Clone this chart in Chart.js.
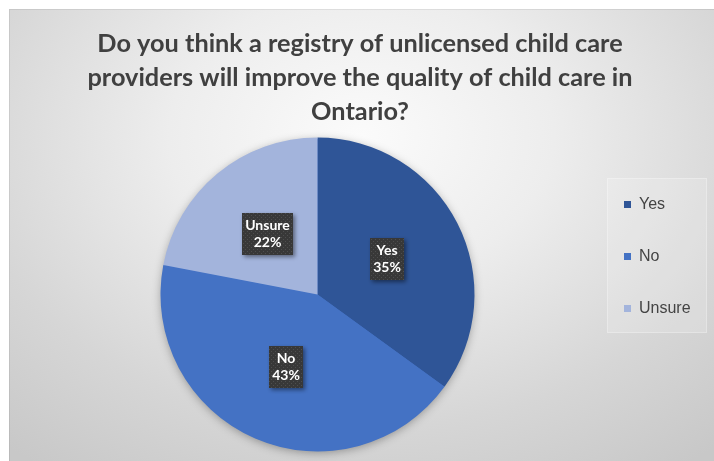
<!DOCTYPE html>
<html>
<head>
<meta charset="utf-8">
<script src="https://cdn.jsdelivr.net/npm/chart.js@4.4.1/dist/chart.umd.min.js"></script>
<style>
  html, body { margin: 0; padding: 0; background: #ffffff; }
  #panel {
    position: absolute; left: 9px; top: 9px; width: 705px; height: 452px;
    background: radial-gradient(ellipse 78% 90% at 50% 28%, #fbfbfb 0%, #ededed 35%, #d6d6d6 72%, #c8c8c8 100%);
    box-shadow: inset 1px 1px 0 rgba(0,0,0,0.07);
  }
  canvas { display: block; }
</style>
</head>
<body>
<div id="panel"><canvas id="chart" width="705" height="452"></canvas></div>
<script>
// Survey answers (percent of respondents)
const titleLines = [
  'Do you think a registry of unlicensed child care',
  'providers will improve the quality of child care in',
  'Ontario?'
];
const categories = ['Yes', 'No', 'Unsure'];
const shares = [35, 43, 22];
const sliceColors = ['#2F5597', '#4472C4', '#A3B4DC'];

// Legend geometry
const LEGEND_WIDTH = 85;        // space the legend takes from the plot
const LEGEND_DRAW_WIDTH = 112;  // room for the label text when drawing
const LEGEND_SHIFT = -38;
const LEGEND_FRAME = { left: 598, top: 169, right: 698, bottom: 324 };

// Dark dotted fill used behind the slice labels
function dotPattern(ctx) {
  const tile = document.createElement('canvas');
  tile.width = 4; tile.height = 4;
  const g = tile.getContext('2d');
  g.fillStyle = '#383838';
  g.fillRect(0, 0, 4, 4);
  g.fillStyle = '#4e4e4e';
  g.fillRect(0, 0, 1, 1);
  g.fillRect(2, 2, 1, 1);
  return ctx.createPattern(tile, 'repeat');
}

// Soft glow under the whole pie
const pieShadow = {
  id: 'pieShadow',
  beforeDatasetsDraw(chart) {
    const arc = chart.getDatasetMeta(0).data[0];
    if (!arc) return;
    const ctx = chart.ctx;
    ctx.save();
    ctx.shadowColor = 'rgba(0,0,0,0.35)';
    ctx.shadowBlur = 10;
    ctx.shadowOffsetY = 2;
    ctx.beginPath();
    ctx.arc(arc.x, arc.y, arc.outerRadius - 1, 0, Math.PI * 2);
    ctx.fillStyle = sliceColors[1];
    ctx.fill();
    ctx.restore();
  }
};

// Category + percentage callouts at the middle of each slice
const sliceCallouts = {
  id: 'sliceCallouts',
  afterDatasetsDraw(chart) {
    const ctx = chart.ctx;
    const meta = chart.getDatasetMeta(0);
    const values = chart.data.datasets[0].data;
    const total = values.reduce((a, b) => a + b, 0);
    const fill = dotPattern(ctx);
    const lineH = 17, padX = 3, padY = 4;
    ctx.save();
    ctx.font = 'bold 14px Lato';
    meta.data.forEach((arc, i) => {
      const p = arc.getCenterPoint();
      const lines = [chart.data.labels[i], Math.round(values[i] / total * 100) + '%'];
      const w = Math.ceil(Math.max(...lines.map(s => ctx.measureText(s).width))) + padX * 2;
      const h = lines.length * lineH + padY * 2;
      const x = Math.round(p.x - w / 2), y = Math.round(p.y - h / 2);
      ctx.save();
      ctx.shadowColor = 'rgba(0,0,0,0.45)';
      ctx.shadowBlur = 4;
      ctx.shadowOffsetX = 2;
      ctx.shadowOffsetY = 2;
      ctx.fillStyle = fill;
      ctx.fillRect(x, y, w, h);
      ctx.restore();
      ctx.fillStyle = '#ffffff';
      ctx.textAlign = 'center';
      ctx.textBaseline = 'middle';
      lines.forEach((s, k) => ctx.fillText(s, x + w / 2, y + padY + lineH / 2 + k * lineH));
    });
    ctx.restore();
  }
};

// Fixed-width legend column with a light panel behind it
const legendPanel = {
  id: 'legendPanel',
  beforeUpdate(chart) {
    const lg = chart.legend;
    if (lg && !lg._fixedWidth) {
      const fit = lg.fit;
      lg.fit = function () { fit.call(this); this.width = LEGEND_WIDTH; };
      lg._fixedWidth = true;
    }
  },
  afterLayout(chart) {
    const lg = chart.legend;
    lg.top += LEGEND_SHIFT;
    lg.bottom += LEGEND_SHIFT;
    lg.width = LEGEND_DRAW_WIDTH;
    lg.right = lg.left + LEGEND_DRAW_WIDTH;
  },
  beforeDraw(chart) {
    const ctx = chart.ctx, f = LEGEND_FRAME;
    ctx.save();
    ctx.fillStyle = 'rgba(255,255,255,0.16)';
    ctx.fillRect(f.left, f.top, f.right - f.left, f.bottom - f.top);
    ctx.strokeStyle = 'rgba(255,255,255,0.28)';
    ctx.lineWidth = 1;
    ctx.strokeRect(f.left + 0.5, f.top + 0.5, f.right - f.left - 1, f.bottom - f.top - 1);
    ctx.restore();
  }
};

new Chart(document.getElementById('chart'), {
  type: 'pie',
  data: {
    labels: categories,
    datasets: [{
      data: shares,
      backgroundColor: sliceColors,
      borderWidth: 0,
      hoverOffset: 0
    }]
  },
  options: {
    responsive: false,
    animation: false,
    devicePixelRatio: 1,
    rotation: 0,
    layout: { padding: { left: 38, right: 41, top: 0, bottom: 9.5 } },
    plugins: {
      title: {
        display: true,
        text: titleLines,
        color: '#404040',
        font: { family: 'Lato', size: 25.3, weight: 'bold', lineHeight: 34 / 25.3 },
        padding: { top: 18, bottom: 8.5 }
      },
      legend: {
        display: true,
        position: 'right',
        align: 'center',
        fullSize: false,
        labels: {
          boxWidth: 7,
          boxHeight: 7,
          padding: 36,
          color: '#444444',
          font: { family: 'Liberation Sans', size: 16 }
        }
      },
      tooltip: { enabled: false }
    }
  },
  plugins: [pieShadow, sliceCallouts, legendPanel]
});
</script>
</body>
</html>
